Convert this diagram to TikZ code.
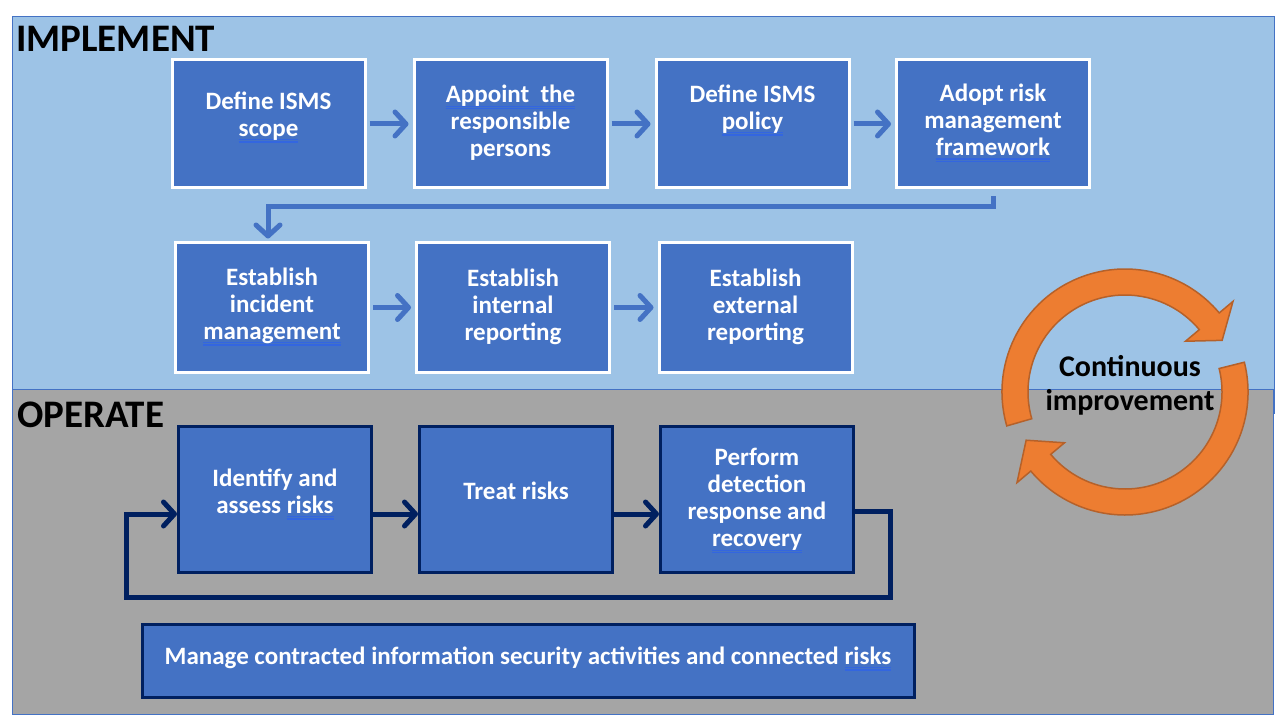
\documentclass[tikz,border=0pt]{standalone}
\usepackage{fontspec}
\setmainfont{Carlito}
\usetikzlibrary{arrows.meta,calc}
\definecolor{panelblue}{HTML}{9DC3E6}
\definecolor{panelgray}{HTML}{A5A5A5}
\definecolor{edgeblue}{HTML}{4472C4}
\definecolor{boxblue}{HTML}{4472C4}
\definecolor{navy}{HTML}{002060}
\definecolor{orangef}{HTML}{ED7D31}
\definecolor{oranged}{HTML}{B5612A}
\definecolor{splc}{HTML}{3366E0}
\newlength\splw
\newcommand\spl[1]{\settowidth\splw{#1}\rlap{\color{splc}\rule[-4pt]{\splw}{1.1pt}\kern-\splw\rule[-6.5pt]{\splw}{1.1pt}}#1}
\tikzset{
  wbox/.style={rectangle, draw=white, line width=3pt, fill=boxblue, inner sep=0pt, minimum width=193pt, minimum height=128pt},
  nbox/.style={wbox, draw=navy, minimum height=146pt},
  txt/.style={text=white, font=\fontsize{25}{27}\selectfont\bfseries, align=center, inner sep=0pt},
  lbl/.style={font=\fontsize{39}{44}\selectfont\bfseries, inner sep=0pt, text=black},
  barr/.style={draw=boxblue, line width=5pt, -{Straight Barb[length=11pt,width=24pt,round]}},
  narr/.style={draw=navy, line width=5pt, -{Straight Barb[length=11pt,width=24pt,round]}},
  ring/.style={fill=orangef, draw=oranged, line width=1.5pt}
}
\begin{document}
\begin{tikzpicture}[x=1pt,y=-1pt]
\useasboundingbox (0,0) rectangle (1285,727);
\fill[white] (0,0) rectangle (1285,727);
% panels
\draw[edgeblue, fill=panelblue, line width=1pt] (12,17) rectangle (1274,413);
\draw[edgeblue, fill=panelgray, line width=1pt] (12,389) rectangle (1273,714);
\node[lbl, anchor=base west] (impl) at (16,52) {IMPLEMENT};
\node[lbl, anchor=base west] (oper) at (17,427) {OPERATE};
% implement row 1
\node[wbox] (b1) at (268.5,124) {};
\node[wbox] (b2) at (510.5,124) {};
\node[wbox] (b3) at (752.5,124) {};
\node[wbox] (b4) at (993,124) {};
\node[txt] (t1) at ($(b1.center)+(0,-7)$) {Define ISMS\\\spl{scope}};
\node[txt] (t2) at ($(b2.center)+(0,-1)$) {\spl{Appoint\ \ the}\\responsible\\persons};
\node[txt] (t3) at ($(b3.center)+(0,-14)$) {Define ISMS\\\spl{policy}};
\node[txt] (t4) at ($(b4.center)+(0,-1)$) {Adopt risk\\management\\\spl{framework}};
% implement row 2
\node[wbox, minimum height=129pt] (b5) at (272,307.5) {};
\node[wbox, minimum height=129pt] (b6) at (513,307.5) {};
\node[wbox, minimum height=129pt] (b7) at (755.5,307.5) {};
\node[txt] (t5) at ($(b5.center)+(0,-1)$) {Establish\\incident\\\spl{management}};
\node[txt] (t6) at ($(b6.center)+(0,-1)$) {Establish\\internal\\reporting};
\node[txt] (t7) at ($(b7.center)+(0,-1)$) {Establish\\external\\reporting};
% operate
\node[nbox] (b8) at (275,499) {};
\node[nbox] (b9) at (516,499) {};
\node[nbox] (b10) at (757,499) {};
\node[txt] (t8) at ($(b8.center)+(0,-5)$) {Identify and\\assess \spl{risks}};
\node[txt] (t9) at ($(b9.center)+(0,-8)$) {Treat risks};
\node[txt] (t10) at ($(b10.center)+(0,2)$) {Perform\\detection\\response and\\\spl{recovery}};
\node[nbox, minimum width=772pt, minimum height=73pt] (b11) at (528,660.5) {};
\node[txt] (t11) at ($(b11.center)+(0,-2)$) {Manage contracted information security activities and connected \spl{risks}};
% implement arrows
\draw[barr, shorten <=3pt, shorten >=4pt] (b1.east) -- (b2.west);
\draw[barr, shorten <=3pt, shorten >=4pt] (b2.east) -- (b3.west);
\draw[barr, shorten <=3pt, shorten >=4pt] (b3.east) -- (b4.west);
\coordinate (turn) at (0,207);
\draw[barr, shorten <=7pt, shorten >=3pt] (b4.south) -- (b4.south |- turn) -| ($(b5.north)+(-4,0)$);
\draw[barr, shorten <=3pt, shorten >=4pt] (b5.east) -- (b6.west);
\draw[barr, shorten <=3pt, shorten >=4pt] (b6.east) -- (b7.west);
% operate arrows
\draw[narr] ($(b8.east)+(0,15)$) -- ($(b9.west)+(0,15)$);
\draw[narr] ($(b9.east)+(0,15)$) -- ($(b10.west)+(0,15)$);
\coordinate (fbR) at (890,597);
\coordinate (fbL) at (126,597);
\draw[narr] ($(b10.east)+(-2,12)$) -| (fbR) -- (fbL) |- ($(b8.west)+(0,15)$);
% continuous improvement ring
\begin{scope}[shift={(1125,392)}]
\filldraw[ring] (-196:123) arc[start angle=-196, end angle=-40, radius=123] -- (-40:141) -- (-28:110) -- (-40:79) -- (-40:97) arc[start angle=-40, end angle=-196, radius=97] -- cycle;
\filldraw[ring] (-14:123) arc[start angle=-14, end angle=140, radius=123] -- (140:141) -- (154:110) -- (140:79) -- (140:97) arc[start angle=140, end angle=-14, radius=97] -- cycle;
\end{scope}
\node[font=\fontsize{30}{34}\selectfont\bfseries, align=center, inner sep=0pt] (ci) at (1130,385) {Continuous\\improvement};
\end{tikzpicture}
\end{document}
